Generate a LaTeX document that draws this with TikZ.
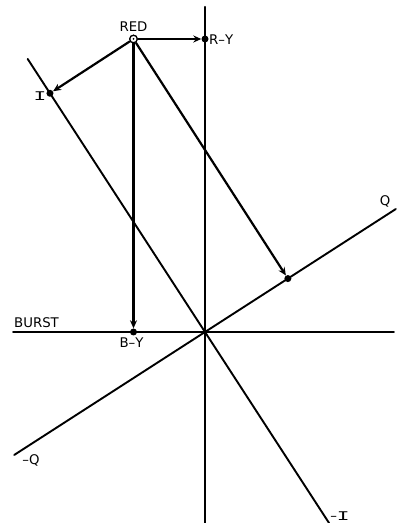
\documentclass[tikz,border=0pt]{standalone}
\usepackage{fontspec}
\setmainfont{DejaVu Sans}
\newfontfamily\monof{Liberation Mono}
\usetikzlibrary{calc,arrows.meta}
\begin{document}
\begin{tikzpicture}[x=1pt,y=1pt,
  axis/.style={line width=1.9pt,line cap=round},
  vaxis/.style={line width=2.1pt,line cap=round},
  vec/.style={line width=2.2pt,-{Stealth[length=8pt,width=7pt]}},
  dot/.style={circle,fill=black,inner sep=0pt,minimum size=7pt},
  origin/.style={circle,draw=black,fill=white,line width=1.2pt,inner sep=0pt,minimum size=7.5pt},
  lbl/.style={font=\fontsize{13.3}{13.3}\selectfont,inner sep=0pt}]
\useasboundingbox (0,0) rectangle (404,523);
% axes
\coordinate (O) at (205,191);
\coordinate (vtop) at (205,516);
\coordinate (vbot) at (205,0);
\coordinate (hl) at (13,191);
\coordinate (hr) at (394,191);
\coordinate (Itop) at ($(O)+(123:325.6)$);
\coordinate (Ibot) at ($(O)+(-57:228)$);
\coordinate (Qtop) at ($(O)+(32.8:227)$);
\coordinate (Qbot) at ($(O)+(212.8:227)$);
\draw[vaxis] (vtop) -- (vbot);
\draw[axis] (hl) -- (hr);
\draw[axis] (Itop) -- (Ibot);
\draw[axis] (Qtop) -- (Qbot);
% red vector and projections
\coordinate (redpt) at ($(O)+(-71.5,293)$);
\node[dot] (RY) at ($(O)!(redpt)!(vtop)$) {};
\node[dot] (BY) at ($(O)!(redpt)!(hl)$) {};
\node[dot] (Ipt) at ($(O)!(redpt)!(Itop)$) {};
\node[dot] (Qpt) at ($(O)!(redpt)!(Qtop)$) {};
\node[origin] (RED) at (redpt) {};
\draw[vec] (RED) -- (RY);
\draw[vec] (RED) -- (BY);
\draw[vec] (RED) -- (Ipt);
\draw[vec] (RED) -- (Qpt);
\node[origin] at (redpt) {};
\fill (redpt) circle (1pt);
% labels
\node[lbl,anchor=base] (redl) at (133.5,491) {RED};
\node[lbl,anchor=base west] (ryl) at (209,478) {R–Y};
\node[lbl,anchor=base] (il) at (40,422) {\monof\scalebox{1.6}[1]{I}};
\node[lbl,anchor=base] (byl) at (131.5,175.3) {B–Y};
\node[lbl,anchor=base west] (burstl) at (14,195.5) {BURST};
\node[lbl,anchor=base] (ql) at (385,317.5) {Q};
\node[lbl,anchor=base] (mql) at (31,58.7) {–Q};
\node[lbl,anchor=base] (mil) at (340,2.7) {–\monof\scalebox{1.6}[1]{I}};
\end{tikzpicture}
\end{document}
